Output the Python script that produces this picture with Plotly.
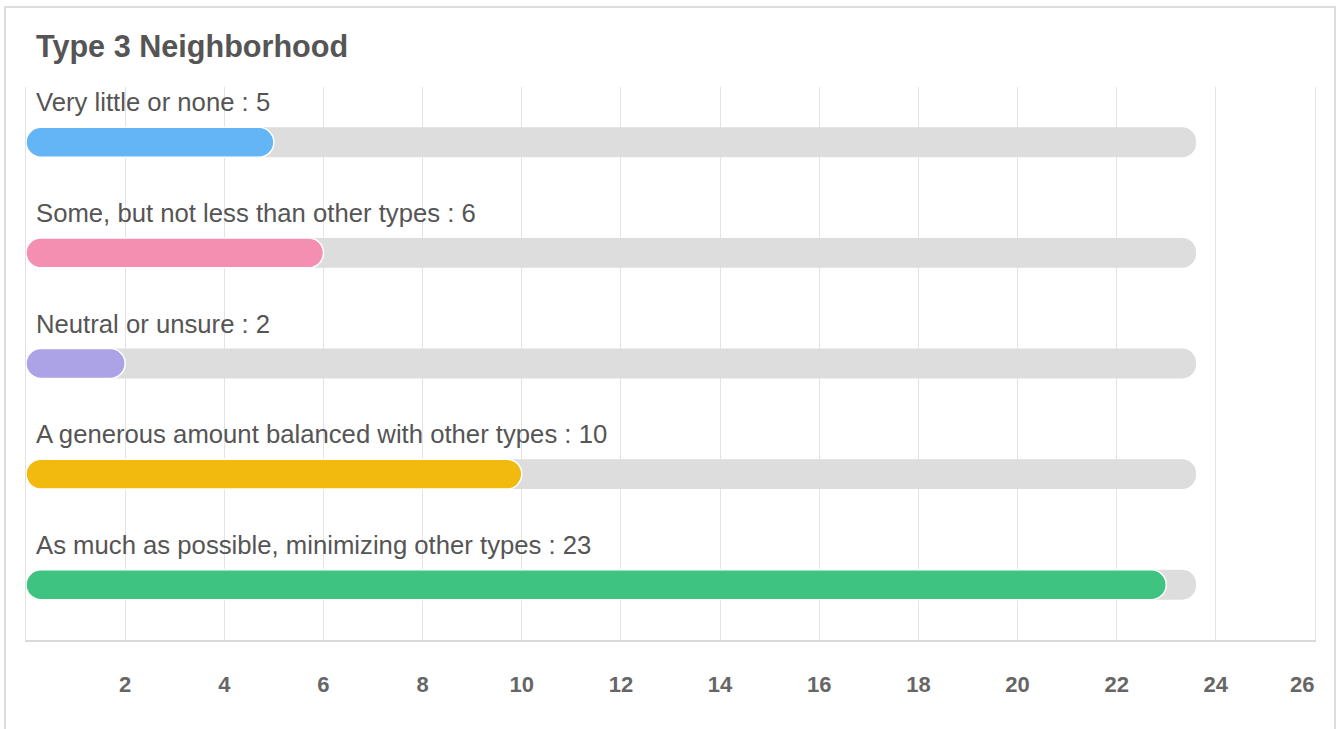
import plotly.graph_objects as go

# Survey answers and counts
categories = [
    "Very little or none",
    "Some, but not less than other types",
    "Neutral or unsure",
    "A generous amount balanced with other types",
    "As much as possible, minimizing other types",
]
counts = [5, 6, 2, 10, 23]
bar_colors = ["#63B5F6", "#F48FB1", "#ABA3E5", "#F2B90F", "#3FC380"]
track_length = 23.6
tick_values = list(range(0, 28, 2))
tick_labels = [""] + [str(v) for v in range(2, 28, 2)]

W, H = 1340, 729
ML, MR, MT, MB = 26, 25, 87, 89
PW = W - ML - MR
PH = H - MT - MB
FONT = "Liberation Sans, Arial, Helvetica, sans-serif"


def paper_x(px):
    return (px - ML) / PW


def paper_y(py):
    return (H - MB - py) / PH


pos = list(range(len(categories)))
BAR_W = 0.27
zero_base = [0] * len(pos)

fig = go.Figure()

# grey background track
fig.add_trace(go.Bar(
    y=pos, x=[track_length] * len(pos), base=zero_base, orientation="h",
    width=BAR_W,
    marker=dict(color="#DDDDDD", cornerradius="50%", line=dict(width=0)),
    hoverinfo="skip", showlegend=False,
))

# coloured value bars, rounded at both ends
fig.add_trace(go.Bar(
    y=pos, x=counts, base=zero_base, orientation="h", width=BAR_W,
    marker=dict(color=bar_colors, cornerradius="50%",
                line=dict(color="white", width=1.5)),
    hoverinfo="skip", showlegend=False,
))

# category labels above each bar
for i, (cat, n) in enumerate(zip(categories, counts)):
    fig.add_annotation(
        xref="paper", yref="y", x=paper_x(34), y=i, yshift=40,
        text=f"{cat} : {n}", showarrow=False, xanchor="left", yanchor="middle",
        font=dict(family=FONT, size=25.7, color="#555555"),
    )

# chart title
fig.add_annotation(
    xref="paper", yref="paper", x=paper_x(34), y=paper_y(47),
    text="Type 3 Neighborhood", showarrow=False, xanchor="left", yanchor="middle",
    font=dict(family=FONT, size=30.6, color="#555555", weight="bold"),
)

# last tick label kept inside the card
fig.add_annotation(
    xref="x", yref="paper", x=tick_values[-1], y=paper_y(684),
    text=tick_labels[-1], showarrow=False, xanchor="right", yanchor="middle",
    xshift=1,
    font=dict(family=FONT, size=22, color="#666666", weight="bold"),
)

# card border
fig.add_shape(
    type="rect", xref="paper", yref="paper",
    x0=paper_x(5), x1=paper_x(1335), y0=paper_y(780), y1=paper_y(7),
    line=dict(color="#DDDDDD", width=2), fillcolor="rgba(0,0,0,0)", layer="below",
)

fig.update_layout(
    width=W, height=H,
    margin=dict(l=ML, r=MR, t=MT, b=MB),
    paper_bgcolor="white", plot_bgcolor="white",
    barmode="overlay", showlegend=False,
    xaxis=dict(
        range=[0, 26], tickvals=tick_values,
        ticktext=tick_labels[:-1] + [""],
        showgrid=True, gridcolor="#E3E3E3", gridwidth=1, zeroline=False,
        showline=True, linecolor="#D9D9D9", linewidth=2,
        ticks="", ticklabelstandoff=24,
        tickfont=dict(family=FONT, size=22, color="#666666", weight="bold"),
        fixedrange=True,
    ),
    yaxis=dict(
        range=[len(pos) - 0.5, -0.5], showticklabels=False, showgrid=False,
        zeroline=False, showline=True, mirror=True, linecolor="#E3E3E3",
        linewidth=1, ticks="", fixedrange=True,
    ),
)

fig.write_html("out.html")
